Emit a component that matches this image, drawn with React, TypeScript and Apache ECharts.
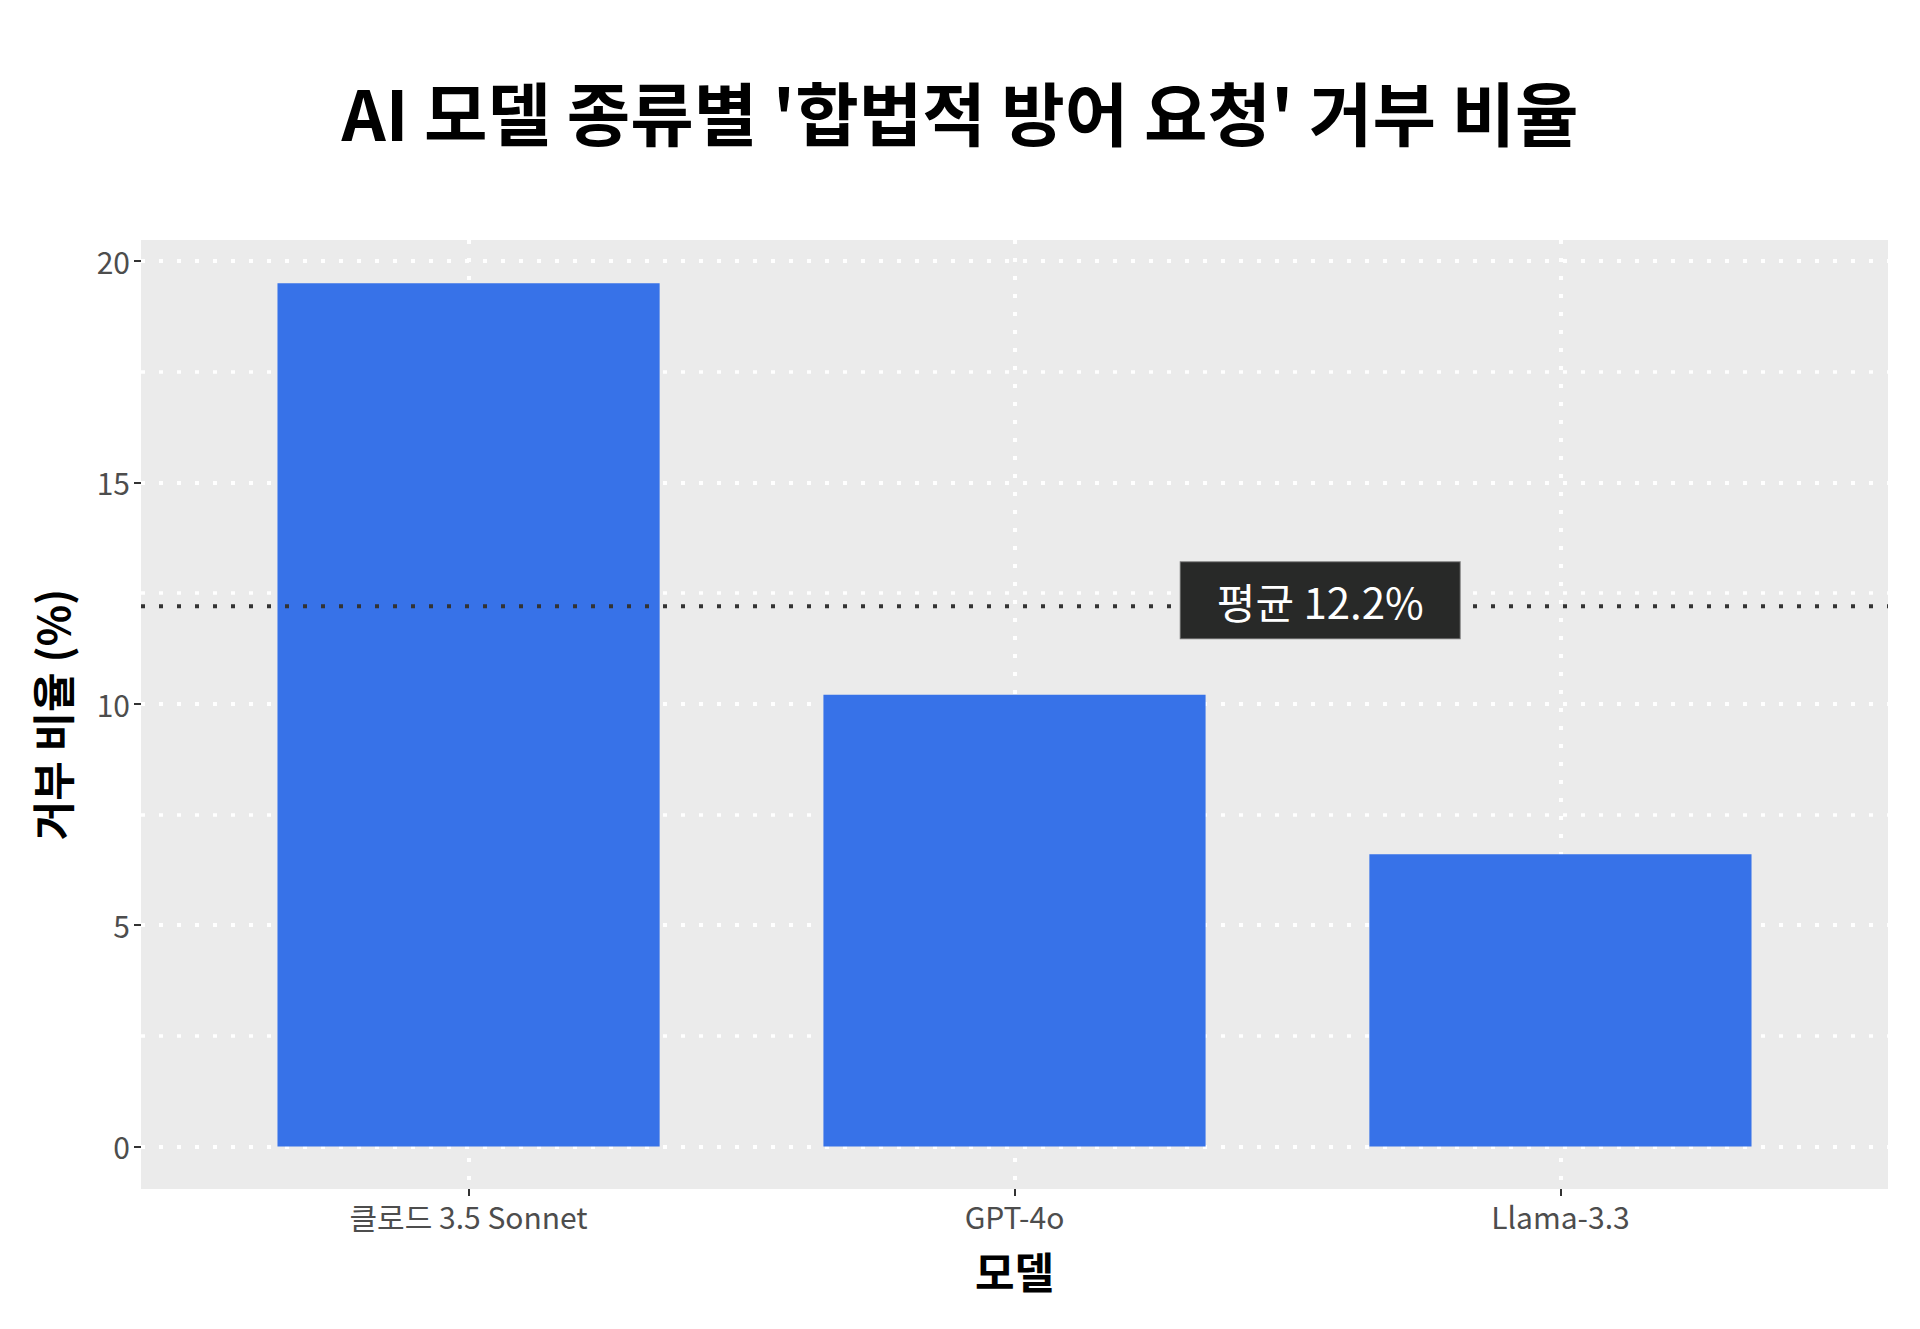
import React, { useEffect, useRef } from 'react';
import * as echarts from 'echarts';

// ---- data ----
const categories = ['클로드 3.5 Sonnet', 'GPT-4o', 'Llama-3.3'];
const refusalRates = [19.5, 10.2, 6.6];
const meanRate = 12.2;
const meanLabel = '평균 12.2%';
const meanLabelX = 2.56; // position on the discrete scale (1..3)
const yMin = 0;
const yMax = 20;
const yStep = 5;
const titleText = "AI 모델 종류별 '합법적 방어 요청' 거부 비율";
const xTitle = '모델';
const yTitle = '거부 비율 (%)';

// ---- layout ----
const W = 1920;
const H = 1329;
const FONT = "'Noto Sans CJK KR', 'Noto Sans', sans-serif";
const panel = { left: 141, top: 240, right: 1888, bottom: 1189 };
const yTopPx = 261; // pixel of yMax
const yZeroPx = 1146.4; // pixel of yMin
const dMin = 0.4; // discrete scale expansion
const dMax = 3.6;
const panelW = panel.right - panel.left;
const xpos = (c: number) => panel.left + ((c - dMin) / (dMax - dMin)) * panelW;
const band = xpos(2) - xpos(1);

export default function App() {
  const ref = useRef<HTMLDivElement>(null);
  useEffect(() => {
    if (!ref.current) return;
    const chart = echarts.init(ref.current, undefined, { renderer: 'svg' });
    const white = { color: '#FFFFFF', width: 4, type: [4, 14] as any };
    const tick = { show: true, length: 7, lineStyle: { color: '#333333', width: 2 } };
    const lab = { color: '#4D4D4D', fontSize: 30, fontFamily: FONT };
    chart.setOption({
      animation: false,
      backgroundColor: '#FFFFFF',
      textStyle: { fontFamily: FONT },
      grid: [
        {
          left: panel.left, top: panel.top, width: panelW, height: panel.bottom - panel.top,
          show: true, backgroundColor: '#EBEBEB', borderWidth: 0,
        },
        { left: panel.left, top: yTopPx, width: panelW, height: yZeroPx - yTopPx },
        { left: xpos(1), top: panel.top, width: xpos(3) - xpos(1), height: panel.bottom - panel.top },
        { left: xpos(1) - band / 2, top: yTopPx, width: xpos(3) - xpos(1) + band, height: yZeroPx - yTopPx },
      ],
      xAxis: [
        { gridIndex: 0, type: 'value', show: false, min: 0, max: 1 },
        { gridIndex: 1, type: 'value', show: false, min: dMin, max: dMax },
        {
          gridIndex: 2, type: 'category', data: categories, boundaryGap: false,
          axisLine: { show: false }, axisTick: tick,
          axisLabel: { ...lab, margin: 12 },
          splitLine: { show: true, lineStyle: white },
        },
        { gridIndex: 3, type: 'category', data: categories, show: false },
      ],
      yAxis: [
        { gridIndex: 0, type: 'value', show: false, min: 0, max: 1 },
        {
          gridIndex: 1, type: 'value', min: yMin, max: yMax, interval: yStep,
          axisLine: { show: false }, axisTick: tick,
          axisLabel: { ...lab, margin: 11 },
          splitLine: { show: true, lineStyle: white },
          minorTick: { show: false, splitNumber: 2 },
          minorSplitLine: { show: true, lineStyle: { color: '#FFFFFF', width: 3.5, type: [4, 14] } },
        },
        { gridIndex: 2, type: 'value', show: false },
        { gridIndex: 3, type: 'value', show: false, min: yMin, max: yMax },
      ],
      series: [
        {
          type: 'bar', xAxisIndex: 3, yAxisIndex: 3, data: refusalRates,
          barWidth: '70%', itemStyle: { color: '#3772E8' }, z: 2,
        },
        {
          type: 'line', xAxisIndex: 1, yAxisIndex: 1,
          data: [[dMin, meanRate], [dMax, meanRate]],
          symbol: 'none', lineStyle: { color: '#333333', width: 4, type: [4, 14] }, z: 3,
        },
        {
          type: 'scatter', xAxisIndex: 1, yAxisIndex: 1,
          data: [[meanLabelX, meanRate]], symbolSize: 1,
          itemStyle: { color: '#282928', opacity: 1 }, z: 4,
          label: {
            show: true, position: 'inside', formatter: meanLabel,
            color: '#FFFFFF', fontSize: 42, fontFamily: FONT, lineHeight: 42,
            backgroundColor: '#282928', borderColor: '#777777', borderWidth: 1,
            padding: [17, 36], offset: [0, -6],
          },
        },
      ],
      graphic: [
        {
          type: 'text', x: W / 2, y: 111,
          style: { text: titleText, fontSize: 69, fontWeight: 'bold', fill: '#000000', align: 'center', verticalAlign: 'middle', fontFamily: FONT },
        },
        {
          type: 'text', x: (panel.left + panel.right) / 2, y: 1270,
          style: { text: xTitle, fontSize: 43, fontWeight: 'bold', fill: '#000000', align: 'center', verticalAlign: 'middle', fontFamily: FONT },
        },
        {
          type: 'text', x: 51, y: (panel.top + panel.bottom) / 2, rotation: Math.PI / 2,
          style: { text: yTitle, fontSize: 43, fontWeight: 'bold', fill: '#000000', align: 'center', verticalAlign: 'middle', fontFamily: FONT },
        },
      ],
    });
    return () => chart.dispose();
  }, []);
  return (
    <div
      ref={ref}
      style={{ position: 'absolute', left: 0, top: 0, width: W, height: H, background: '#FFFFFF' }}
    />
  );
}
